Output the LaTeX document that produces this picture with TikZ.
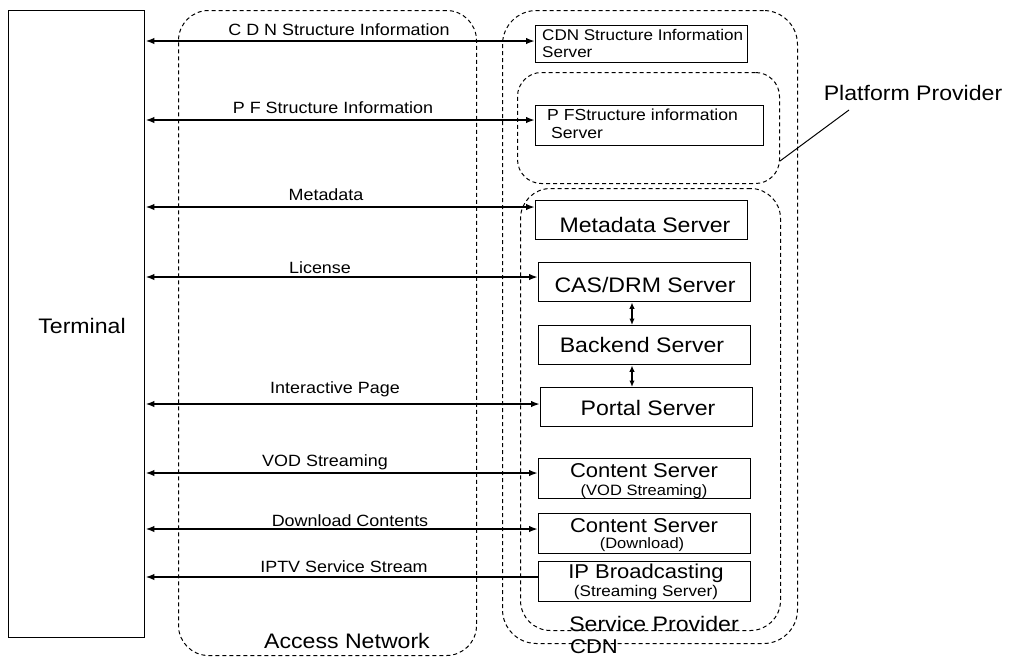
\documentclass[tikz,border=0pt]{standalone}
\usepackage{fontspec}
\setmainfont{Liberation Sans}[FakeStretch=1.1]
\usetikzlibrary{arrows.meta}
\newcommand\fsz[1]{\fontsize{#1}{#1}\selectfont}
\begin{document}
\begin{tikzpicture}[x=1pt,y=-1pt,
  box/.style={draw,line width=1.4pt,rectangle,inner sep=0pt,anchor=north west},
  grp/.style={draw,dash pattern=on 4pt off 3pt,line width=1pt,rectangle,inner sep=0pt,anchor=north west},
  dbl/.style={line width=1.9pt,{Latex[length=9pt,width=6.5pt]}-{Latex[length=9pt,width=6.5pt]}},
  one/.style={line width=1.9pt,{Latex[length=9pt,width=6.5pt]}-},
  vdbl/.style={line width=1.5pt,{Latex[length=6.5pt,width=5.5pt]}-{Latex[length=6.5pt,width=5.5pt]}},
  lab/.style={anchor=base,inner sep=0pt,font=\fsz{16.3}},
  big/.style={anchor=base,inner sep=0pt,font=\fsz{21}},
  sml/.style={anchor=base,inner sep=0pt,font=\fsz{15}},
  lft/.style={anchor=base west,inner sep=0pt,font=\fsz{15.5}},
]
\useasboundingbox (0,0) rectangle (1014,657);

% groups
\node[grp,rounded corners=30pt,minimum width=298pt,minimum height=645pt] (acc) at (178,10) {};
\node[grp,rounded corners=34pt,minimum width=295pt,minimum height=633pt] (cdn) at (502,10) {};
\node[grp,rounded corners=24pt,minimum width=262pt,minimum height=111pt] (pp) at (517,72) {};
\node[grp,rounded corners=30pt,minimum width=260pt,minimum height=442pt] (sp) at (520,188) {};

% terminal
\node[box,minimum width=136pt,minimum height=627pt] (term) at (8,10) {};
\node[big] (termt) at (82,333) {Terminal};

% servers
\node[box,minimum width=212pt,minimum height=37pt] (cdns) at (535,25) {};
\node[box,minimum width=228pt,minimum height=40pt] (pfs) at (535,105) {};
\node[box,minimum width=212pt,minimum height=39pt] (meta) at (535,200) {};
\node[box,minimum width=212pt,minimum height=39pt] (cas) at (538,262) {};
\node[box,minimum width=212pt,minimum height=39pt] (back) at (538,325) {};
\node[box,minimum width=212pt,minimum height=39pt] (portal) at (540,387) {};
\node[box,minimum width=212pt,minimum height=40pt] (vod) at (538,458) {};
\node[box,minimum width=212pt,minimum height=40pt] (dl) at (538,513) {};
\node[box,minimum width=212pt,minimum height=40pt] (ipb) at (538,561) {};

% server texts
\node[lft] (cdnst1) at (542,40) {CDN Structure Information};
\node[lft] (cdnst2) at (542,57) {Server};
\node[lft,font=\fsz{16}] (pfst1) at (547,120) {P FStructure information};
\node[lft,font=\fsz{16}] (pfst2) at (551,138) {Server};
\node[big] (metat) at (645,232) {Metadata Server};
\node[big] (cast) at (645,292) {CAS/DRM Server};
\node[big] (backt) at (642,352) {Backend Server};
\node[big] (portalt) at (648,415) {Portal Server};
\node[big,font=\fsz{20}] (vodt1) at (644,477) {Content Server};
\node[sml] (vodt2) at (644,495) {(VOD Streaming)};
\node[big,font=\fsz{20}] (dlt1) at (644,532) {Content Server};
\node[sml] (dlt2) at (642,548) {(Download)};
\node[big,font=\fsz{20}] (ipbt1) at (646,578) {IP Broadcasting};
\node[sml,font=\fsz{15.5}] (ipbt2) at (646,596) {(Streaming Server)};

% group labels
\node[big] (acct) at (347,648) {Access Network};
\node[big] (spt) at (654,631) {Service Provider};
\node[big,font=\fsz{20}] (cdnt) at (594,653) {CDN};
\node[big] (ppt) at (913,100) {Platform Provider};
\coordinate (ppe) at (849,110);
\draw[line width=1pt] ([yshift=23pt]pp.south east) -- (ppe);

% connectors
\draw[dbl] (term.east |- 0,41) -- (cdns.west |- 0,41);
\draw[dbl] (term.east |- 0,120) -- (pfs.west |- 0,120);
\draw[dbl] (term.east |- 0,207) -- (meta.west |- 0,207);
\draw[dbl] (term.east |- 0,277) -- (cas.west |- 0,277);
\draw[dbl] (term.east |- 0,404) -- (portal.west |- 0,404);
\draw[dbl] (term.east |- 0,473) -- (vod.west |- 0,473);
\draw[dbl] (term.east |- 0,529) -- (dl.west |- 0,529);
\draw[one] (term.east |- 0,577) -- (ipb.west |- 0,577);
\draw[vdbl] (cas.south -| 632,0) -- (back.north -| 632,0);
\draw[vdbl] (back.south -| 632,0) -- (portal.north -| 632,0);

% connector labels
\node[lab] (l1) at (339,35) {C D N Structure Information};
\node[lab] (l2) at (333,113) {P F Structure Information};
\node[lab] (l3) at (326,200) {Metadata};
\node[lab] (l4) at (320,273) {License};
\node[lab] (l5) at (335,393) {Interactive Page};
\node[lab] (l6) at (325,466) {VOD Streaming};
\node[lab] (l7) at (350,526) {Download Contents};
\node[lab] (l8) at (344,572) {IPTV Service Stream};
\end{tikzpicture}
\end{document}
